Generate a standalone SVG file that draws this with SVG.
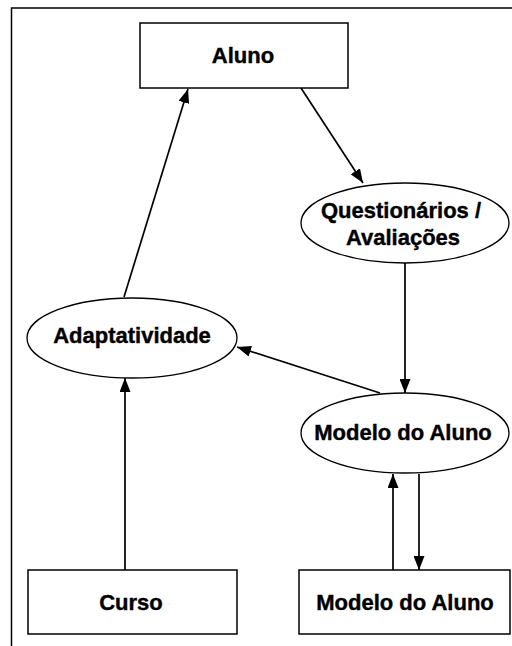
<svg xmlns="http://www.w3.org/2000/svg" width="512" height="646" viewBox="0 0 512 646">
<style>
.box{fill:#fff;stroke:#000;stroke-width:1.5}
.ell{fill:#fff;stroke:#000;stroke-width:1.3}
.lbl{font-family:"Liberation Sans",Arial,sans-serif;font-weight:bold;font-size:22px;fill:#000;stroke:#000;stroke-width:0.4;text-anchor:middle}
.con{stroke:#000;stroke-width:1.7;fill:none;marker-end:url(#ah)}
</style>
<defs>
<marker id="ah" viewBox="0 0 14 11" refX="14" refY="5.5" markerWidth="14" markerHeight="11" markerUnits="userSpaceOnUse" orient="auto">
<path d="M0,0 L14,5.5 L0,11 Z" fill="#000"/>
</marker>
</defs>
<rect x="0" y="0" width="512" height="646" fill="#fff"/>
<rect id="frame" x="11.5" y="8" width="540" height="680" fill="none" stroke="#000" stroke-width="1.5"/>
<g id="connectors">
<line class="con" x1="124" y1="297" x2="188" y2="89"/>
<line class="con" x1="301" y1="88" x2="363" y2="183"/>
<line class="con" x1="405" y1="263" x2="405" y2="393"/>
<line class="con" x1="380" y1="393" x2="237" y2="347"/>
<line class="con" x1="125" y1="570" x2="125" y2="378"/>
<line class="con" x1="393" y1="570" x2="393" y2="474"/>
<line class="con" x1="419" y1="474" x2="419" y2="570"/>
</g>
<g id="aluno">
<rect class="box" x="140" y="23" width="208" height="65"/>
<text class="lbl" x="243" y="63">Aluno</text>
</g>
<g id="questionarios">
<ellipse class="ell" cx="405" cy="223" rx="104" ry="40"/>
<text class="lbl" x="401" y="218">Questionários /</text>
<text class="lbl" x="403" y="245">Avaliações</text>
</g>
<g id="adaptatividade">
<ellipse class="ell" cx="132" cy="338" rx="105" ry="40"/>
<text class="lbl" x="132" y="343">Adaptatividade</text>
</g>
<g id="modelo-ellipse">
<ellipse class="ell" cx="405" cy="433" rx="104" ry="40"/>
<text class="lbl" x="403" y="440">Modelo do Aluno</text>
</g>
<g id="curso">
<rect class="box" x="28" y="570" width="209" height="64"/>
<text class="lbl" x="131" y="610">Curso</text>
</g>
<g id="modelo-box">
<rect class="box" x="299" y="570" width="211" height="64"/>
<text class="lbl" x="405" y="610">Modelo do Aluno</text>
</g>
</svg>
